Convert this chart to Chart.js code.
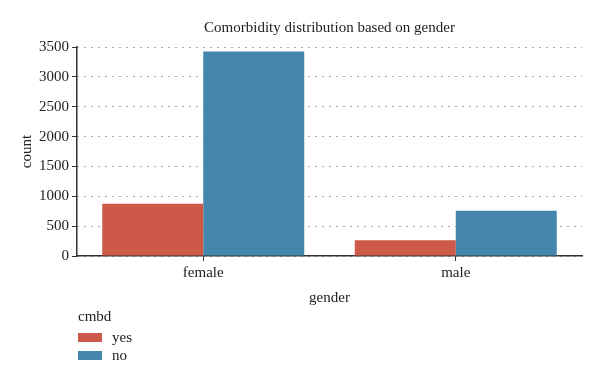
<!DOCTYPE html>
<html>
<head>
<meta charset="utf-8">
<script src="https://cdn.jsdelivr.net/npm/chart.js@4"></script>
<style>
  body { margin: 0; background: #fff; }
  #wrap { position: relative; width: 600px; height: 381px; }
  #legend { position: absolute; left: 78px; top: 308px; font-family: "Liberation Serif", serif; font-size: 15px; color: #222; }
  #legend .t { margin-bottom: 3px; }
  #legend .it { display: flex; align-items: center; height: 18px; }
  #legend .sw { width: 24px; height: 9px; margin-right: 10px; }
</style>
</head>
<body>
<div id="wrap">
  <canvas id="chart1" width="600" height="381"></canvas>
  <div id="legend"></div>
</div>
<script>
// donnees
const genders = ["female", "male"];
const yesCounts = [875, 262];
const noCounts = [3425, 758];
const legendTitle = "cmbd";

const police = "'Liberation Serif', serif";
const ctx1 = document.getElementById('chart1');

const chart = new Chart(ctx1, {
	type: 'bar',
	data: {
		labels: genders,
		datasets: [
			{ label: 'yes', data: yesCounts, backgroundColor: '#cd5a48' },
			{ label: 'no', data: noCounts, backgroundColor: '#4586ad' },
		]
	},
	options: {
		responsive: false,
		animation: false,
		layout: { padding: { top: 15, right: 18, bottom: 70, left: 14 } },
		datasets: { bar: { barPercentage: 1, categoryPercentage: 0.8 } },
		plugins: {
			legend: { display: false },
			tooltip: { enabled: false },
			title: {
				display: true,
				fullSize: false,
				text: 'Comorbidity distribution based on gender',
				color: '#222',
				font: { family: police, size: 15, weight: 'normal' },
				padding: { top: 4, bottom: 10 }
			}
		},
		scales: {
			x: {
				grid: { display: true, drawOnChartArea: false, offset: false, tickLength: 5, color: '#333' },
				border: { color: '#333', width: 1.5 },
				ticks: { color: '#222', font: { family: police, size: 15 }, padding: 3 },
				title: { display: true, text: 'gender', color: '#222', font: { family: police, size: 15 }, padding: { top: 4 } }
			},
			y: {
				min: 0,
				max: 3500,
				ticks: {
					stepSize: 500, color: '#222', font: { family: police, size: 15 }, padding: 3,
					callback: function(v) { return String(v); }
				},
				grid: { color: '#555', tickLength: 5, lineWidth: 1, tickColor: '#333', tickBorderDash: [] },
				border: { color: '#333', width: 1.5, dash: [1, 6] },
				title: { display: true, text: 'count', color: '#222', font: { family: police, size: 15 }, padding: { top: 4, bottom: 0 } }
			}
		}
	}
});

// legende verticale en html
const leg = document.getElementById('legend');
let html = '<div class="t">' + legendTitle + '</div>';
chart.data.datasets.forEach(function(ds) {
	html += '<div class="it"><span class="sw" style="background:' + ds.backgroundColor + '"></span>' + ds.label + '</div>';
});
leg.innerHTML = html;
</script>
</body>
</html>
